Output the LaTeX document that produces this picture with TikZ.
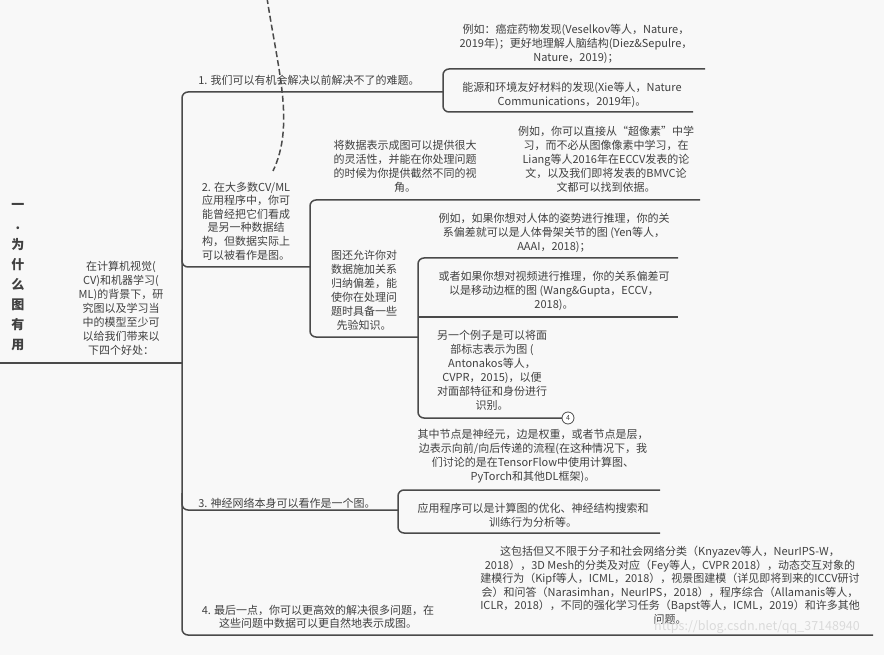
\documentclass[tikz,border=0pt]{standalone}
\usepackage{fontspec}
\setmainfont{Noto Sans CJK SC}
\definecolor{bg}{HTML}{F8F8F8}
\definecolor{ln}{HTML}{4A4A4A}
\definecolor{tx}{HTML}{404040}
\definecolor{wm}{HTML}{DADADA}
\begin{document}
\begin{tikzpicture}[x=1pt,y=-1pt,
  txt/.style={font=\fontsize{11}{14}\selectfont, align=center, text=tx, inner sep=0pt},
  br/.style={draw=ln, line width=1.5pt, rounded corners=6pt},
  rel/.style={draw=ln, line width=1.5pt, dash pattern=on 6pt off 3pt}]
\fill[bg] (0,0) rectangle (884,655);
\useasboundingbox (0,0) rectangle (884,655);

% junction coordinates
\coordinate (r0) at (0,363);
\coordinate (rj) at (182,363);
\coordinate (m1) at (182,92);
\coordinate (m4) at (182,635);
\coordinate (e4) at (873,635);
\coordinate (b1) at (443,92);

% root
\node[font=\bfseries\fontsize{13}{20}\selectfont, align=center, text=tx, inner sep=0pt] (root) at (18,277.5)
 {一\\.\\为\\什\\么\\图\\有\\用};
\node[txt] (sub) at (121,308.5)
 {在计算机视觉(\\CV)和机器学习(\\ML)的背景下，研\\究图以及学习当\\中的模型至少可\\以给我们带来以\\下四个好处：};

% topic 1
\node[txt] (t1) at (309,80) {1. 我们可以有机会解决以前解决不了的难题。};
\node[txt] (t1a) at (576,43.5)
 {例如：癌症药物发现(Veselkov等人，Nature，\\2019年)；更好地理解人脑结构(Diez\&Sepulre，\\Nature，2019)；};
\node[txt] (t1b) at (572,95)
 {能源和环境友好材料的发现(Xie等人，Nature\\Communications，2019年)。};

% topic 2
\node[txt, font=\fontsize{11}{13.6}\selectfont] (t2) at (246,221)
 {2. 在大多数CV/ML\\应用程序中，你可\\能曾经把它们看成\\是另一种数据结\\构，但数据实际上\\可以被看作是图。};
\node[txt] (t2a) at (405,166.5)
 {将数据表示成图可以提供很大\\的灵活性，并能在你处理问题\\的时候为你提供截然不同的视\\角。};
\node[txt] (t2a1) at (606,159.5)
 {例如，你可以直接从“超像素”中学\\习，而不必从图像像素中学习，在\\Liang等人2016年在ECCV发表的论\\文，以及我们即将发表的BMVC论\\文都可以找到依据。};
\node[txt] (t2b) at (364,290.5)
 {图还允许你对\\数据施加关系\\归纳偏差，能\\使你在处理问\\题时具备一些\\先验知识。};
\node[txt] (t2b1) at (554,232.5)
 {例如，如果你想对人体的姿势进行推理，你的关\\系偏差就可以是人体骨架关节的图 (Yen等人，\\AAAI，2018)；};
\node[txt] (t2b2) at (554,290.5)
 {或者如果你想对视频进行推理，你的关系偏差可\\以是移动边框的图 (Wang\&Gupta，ECCV，\\2018)。};
\node[txt] (t2b3) at (492,370.5)
 {另一个例子是可以将面\\部标志表示为图 (\\Antonakos等人，\\CVPR，2015)，以便\\对面部特征和身份进行\\识别。};

% topic 3
\node[txt] (t3) at (287,503) {3. 神经网络本身可以看作是一个图。};
\node[txt] (t3a) at (533,456)
 {其中节点是神经元，边是权重，或者节点是层，\\边表示向前/向后传递的流程(在这种情况下，我\\们讨论的是在TensorFlow中使用计算图、\\PyTorch和其他DL框架)。};
\node[txt] (t3b) at (533,515.5)
 {应用程序可以是计算图的优化、神经结构搜索和\\训练行为分析等。};

% topic 4
\node[txt, font=\fontsize{11}{13}\selectfont] (t4) at (318,617)
 {4. 最后一点，你可以更高效的解决很多问题，在\\这些问题中数据可以更自然地表示成图。};
\node[txt, font=\fontsize{11}{13.5}\selectfont] (t4a) at (670,585)
 {这包括但又不限于分子和社会网络分类（Knyazev等人，NeurIPS-W，\\2018），3D Mesh的分类及对应（Fey等人，CVPR 2018），动态交互对象的\\建模行为（Kipf等人，ICML，2018），视景图建模（详见即将到来的ICCV研讨\\会）和问答（Narasimhan，NeurIPS，2018），程序综合（Allamanis等人，\\ICLR，2018），不同的强化学习任务（Bapst等人，ICML，2019）和许多其他\\问题。};

% watermark
\node[font=\fontsize{12.5}{12.5}\selectfont, text=wm, inner sep=0pt] (wmk) at (757,627) {https://blog.csdn.net/qq\_37148940};

% connectors (underlines and brackets)
\draw[br] (r0) -- (rj);
\draw[br] (b1) -- (m1) -- (m4) -- (e4);
\draw[br] (182,250) -- (182,267) -- (310,267);
\draw[br] (182,493) -- (182,510) -- (398,510);
\draw[br] (705,69) -- (443,69) -- (443,112) -- (693,112);
\draw[br] (700,200) -- (310,200) -- (310,337) -- (418,337);
\draw[br] (678,258) -- (418,258) -- (418,418) -- (562,418);
\draw[br] (418,317) -- (678,317);
\draw[br] (660,490) -- (398,490) -- (398,533) -- (660,533);
\node[circle, draw=ln, line width=0.8pt, fill=white, inner sep=0pt, minimum size=12pt, text=tx, font=\fontsize{7}{7}\selectfont] (c4) at (568,418) {4};

% relationship (dashed)
\coordinate (d0) at (267,-2);
\coordinate (d1) at (273,171);
\draw[rel] (d0) .. controls (278,70) and (295,125) .. (d1);
\end{tikzpicture}
\end{document}
